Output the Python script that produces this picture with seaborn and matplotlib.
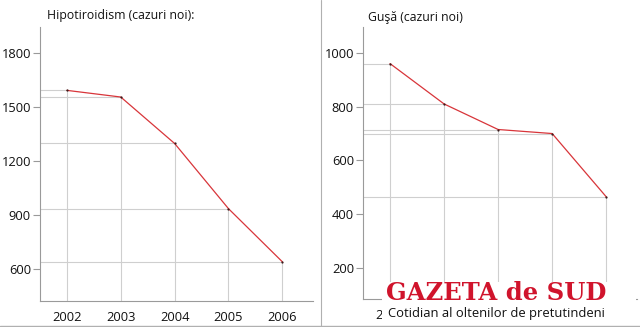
import matplotlib
matplotlib.use("Agg")
import matplotlib.pyplot as plt
from matplotlib.lines import Line2D
import seaborn as sns
import pandas as pd

# ---- data ----
years = [2002, 2003, 2004, 2005, 2006]
hipotiroidism = [1592, 1555, 1297, 935, 640]
gusa = [960, 810, 715, 700, 465]
title_left = "Hipotiroidism (cazuri noi):"
title_right = "Guşă (cazuri noi)"
yticks_left = [600, 900, 1200, 1500, 1800]
yticks_right = [200, 400, 600, 800, 1000]
watermark_title = "GAZETA de SUD"
watermark_sub = "Cotidian al oltenilor de pretutindeni"

sns.set_style("white")
plt.rcParams['font.family'] = ['Open Sans', 'DejaVu Sans']

LINE = "#d8353a"
GRID = "#cfcfcf"
AX = "#9a9a9a"

fig = plt.figure(figsize=(6.4, 3.27), dpi=100)
axL = fig.add_axes([40/640, 1-301/327, (313-40)/640, (301-27)/327])
axR = fig.add_axes([363/640, 1-299/327, (637-363)/640, (299-27)/327])


def draw(ax, vals, yticks, ylim, title, title_x, title_y, show_xlabels):
    xlim = (2001.5, 2006.57)
    ax.set_xlim(*xlim)
    ax.set_ylim(*ylim)
    ax.hlines(vals, xlim[0], years, color=GRID, lw=0.8, zorder=1)
    ax.vlines(years, ylim[0], vals, color=GRID, lw=0.8, zorder=1)
    df = pd.DataFrame({"an": years, "v": vals})
    sns.lineplot(data=df, x="an", y="v", ax=ax, color=LINE, lw=0.9,
                 marker="o", markersize=1.6, markerfacecolor="#3a1a1a",
                 markeredgewidth=0, zorder=3)
    ax.set_xticks(years)
    ax.set_xticklabels([str(y) if show else "" for y, show in zip(years, show_xlabels)])
    ax.set_yticks(yticks)
    ax.set_yticklabels([str(t) for t in yticks])
    ax.set_xlabel("")
    ax.set_ylabel("")
    for s in ["top", "right"]:
        ax.spines[s].set_visible(False)
    for s in ["left", "bottom"]:
        ax.spines[s].set_color(AX)
        ax.spines[s].set_linewidth(0.8)
    ax.tick_params(axis="y", direction="out", length=5, width=0.8, color=AX,
                   pad=1.5, labelsize=9.3, labelcolor="#111111", left=True)
    ax.tick_params(axis="x", length=0, pad=7, labelsize=9.3, labelcolor="#111111", bottom=True)
    ax.patch.set_alpha(0)
    fig.text(title_x, title_y, title, fontsize=8.8, color="#111111",
             ha="left", va="center")


draw(axL, hipotiroidism, yticks_left, (422, 1944), title_left, 47/640, 1-15/327,
     [True] * 5)
# in the reference the watermark hides the right panel's year labels (only "2(" peeks out)
draw(axR, gusa, yticks_right, (85, 1096), title_right, 368/640, 1-18/327,
     [True, False, False, False, False])

# panel frame lines
fig.add_artist(Line2D([320.5/640, 320.5/640], [0, 1], color="#b0b0b0", lw=0.8))
fig.add_artist(Line2D([0, 1], [1-325.8/327, 1-325.8/327], color="#b0b0b0", lw=1.0))

# watermark
fig.patches.append(plt.Rectangle((382/640, 1-324.5/327), (636-382)/640, (324.5-282)/327,
                                 transform=fig.transFigure, facecolor="white",
                                 edgecolor="none", zorder=5))
fig.text(496/640, 1-292.5/327, watermark_title, fontsize=17.5, color="#d0142c",
         fontweight="bold", family="DejaVu Serif", ha="center", va="center", zorder=6)
fig.text(496/640, 1-313.5/327, watermark_sub, fontsize=9.4, color="#111111",
         ha="center", va="center", zorder=6)

fig.savefig("out.png", dpi=100)
